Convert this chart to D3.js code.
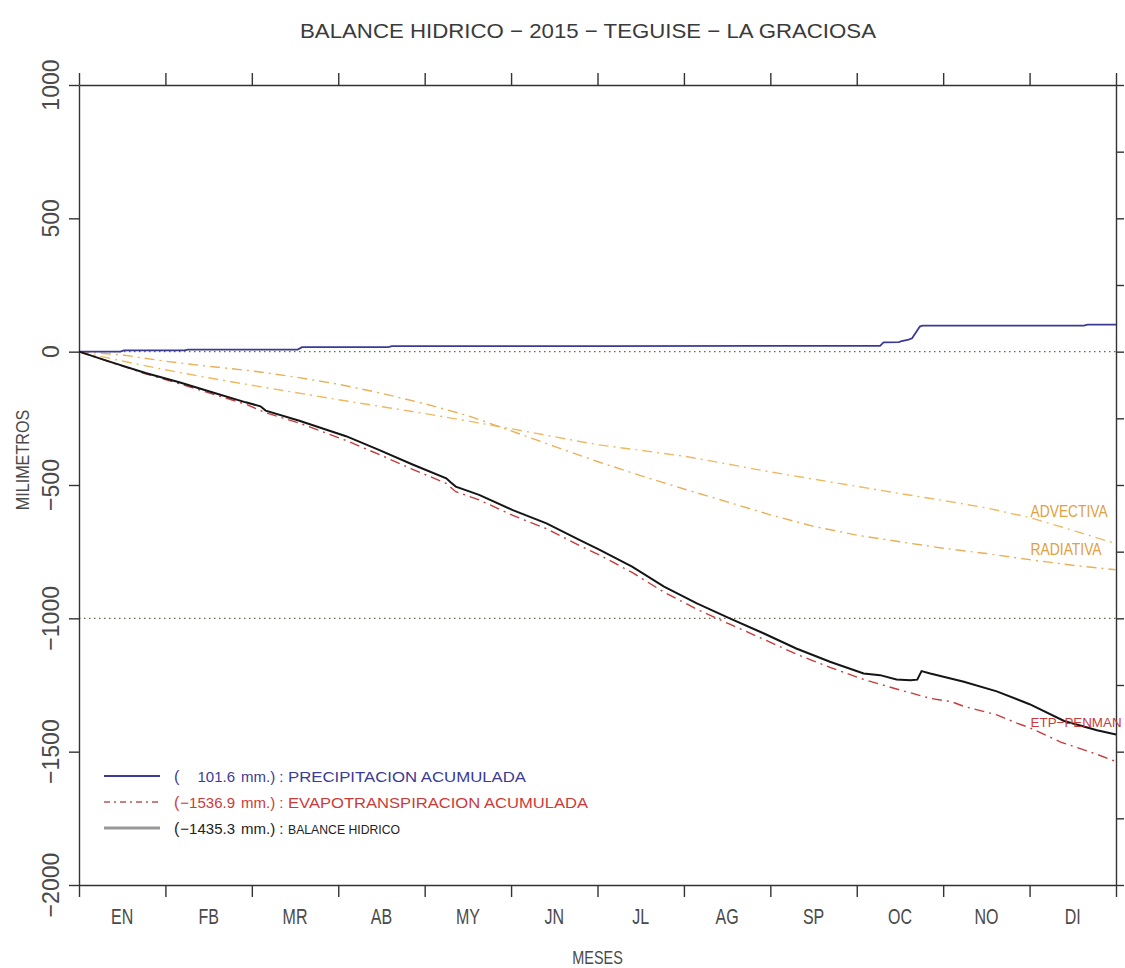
<!DOCTYPE html>
<html><head><meta charset="utf-8">
<script src="https://cdn.jsdelivr.net/npm/d3@7"></script>
<style>
body{margin:0;background:#fff;}
svg{display:block;}
text{font-family:"Liberation Sans","DejaVu Sans",sans-serif;}
</style></head><body>
<svg id="c" width="1125" height="968"></svg>
<script>
// ---------- data ----------
const months = ["EN","FB","MR","AB","MY","JN","JL","AG","SP","OC","NO","DI"];
const yTickValues = [1000,500,0,-500,-1000,-1500,-2000];
const yRightTickValues = [1000,750,500,250,0,-250,-500,-750,-1000,-1250,-1500,-1750,-2000];
const refLineValues = [0,-1000];

// time in months since 1 Jan (0..12)
const precipT = [0,0.48,0.52,1.22,1.26,2.53,2.58,3.58,3.62,6.0,9.27,9.31,9.49,9.52,9.60,9.64,9.73,9.76,11.63,11.67,12];
const precipV = [0,0,5,5,8,8,17,17,21,21,22,35,36,40,45,50,94,97.5,98,101.6,101.6];

const etpT = [0,0.39,0.77,1.16,1.54,1.93,2.16,2.55,3.09,3.47,3.86,4.25,4.36,4.63,5.02,5.41,5.79,6.02,6.4,6.77,7.15,7.53,7.92,8.3,8.69,9.08,9.46,9.85,10.1,10.24,10.62,10.86,11.0,11.36,11.78,12];
const etpV = [0,-42,-83,-120,-158,-197,-229,-268,-333,-385,-441,-494,-525,-556,-614,-664,-727,-762,-828,-902,-966,-1022,-1078,-1134,-1184,-1229,-1265,-1300,-1313,-1330,-1362,-1394,-1410,-1464,-1510,-1536.9];

const balT = [0,0.39,0.77,1.16,1.54,1.93,2.1,2.16,2.55,3.09,3.47,3.86,4.25,4.3,4.36,4.63,5.02,5.41,5.79,6.02,6.4,6.77,7.15,7.53,7.92,8.3,8.69,9.08,9.27,9.46,9.62,9.7,9.75,9.85,10.24,10.62,11.0,11.4,11.78,12];
const balV = [0,-41,-80,-115,-152,-190,-205,-221,-259,-317,-368,-423,-475,-490,-506,-537,-594,-644,-706,-742,-806,-881,-944,-1000,-1056,-1113,-1163,-1207,-1213,-1229,-1232,-1230,-1198,-1207,-1238,-1274,-1322,-1385,-1420,-1435.3];

const halfT = [0,0.5,1,1.5,2,2.5,3,3.5,4,4.5,5,5.5,6,6.5,7,7.5,8,8.5,9,9.5,10,10.5,11,11.5,12];
const advV = [0,-35,-68,-98,-126,-153,-180,-206,-232,-260,-289,-319,-349,-370,-392,-421,-451,-478,-505,-532,-558,-586,-622,-670,-720];
const radV = [0,-12,-36,-55,-72,-95,-122,-156,-195,-240,-297,-355,-412,-465,-515,-563,-612,-655,-688,-713,-737,-757,-780,-801,-818];

const legendValues = ["101.6","\u22121536.9","\u22121435.3"];
const legendLabels = ["PRECIPITACION ACUMULADA","EVAPOTRANSPIRACION ACUMULADA","BALANCE HIDRICO"];
const sideLabels = ["ADVECTIVA","RADIATIVA","ETP\u2212PENMAN"];

// ---------- drawing ----------
const svg = d3.select("#c");
const L=79, R=1116, T=85, B=885;
const x = d3.scaleLinear().domain([0,12]).range([L,R]);
const y = d3.scaleLinear().domain([-2000,1000]).range([B,T]);
const axisColor = "#333";
const txtCol = "#4a4a4a";

svg.append("rect").attr("width",1125).attr("height",968).attr("fill","#fff");

// reference dotted lines
svg.selectAll(".ref").data(refLineValues).join("line")
  .attr("x1",L).attr("x2",R).attr("y1",d=>y(d)).attr("y2",d=>y(d))
  .attr("stroke","#6d6650").attr("stroke-width",1.3).attr("stroke-dasharray","1.5,3.5");

// axes
function styleAxis(g){
  g.selectAll("path").attr("stroke",axisColor).attr("stroke-width",1.4);
  g.selectAll("line").attr("stroke",axisColor).attr("stroke-width",1.4);
}
svg.append("g").attr("transform",`translate(0,${T})`)
  .call(d3.axisTop(x).tickValues(d3.range(0,13)).tickSize(12).tickSizeOuter(0).tickFormat(""))
  .call(styleAxis);
svg.append("g").attr("transform",`translate(0,${B})`)
  .call(d3.axisBottom(x).tickValues(d3.range(0,13)).tickSize(12).tickSizeOuter(0).tickFormat(""))
  .call(styleAxis);
svg.append("g").attr("transform",`translate(${L},0)`)
  .call(d3.axisLeft(y).tickValues(yTickValues).tickSize(10).tickSizeOuter(0).tickFormat(""))
  .call(styleAxis);
svg.append("g").attr("transform",`translate(${R},0)`)
  .call(d3.axisRight(y).tickValues(yRightTickValues).tickSize(8).tickSizeOuter(0).tickFormat(""))
  .call(styleAxis);

// y tick labels (rotated)
svg.selectAll(".ylab").data(yTickValues).join("text")
  .attr("transform",d=>`translate(59,${y(d)}) rotate(-90) scale(1.05,1.12)`)
  .attr("text-anchor","middle").attr("font-size",22).attr("fill",txtCol)
  .text(d=> d<0 ? "\u2212"+Math.abs(d) : String(d));

// month labels
svg.selectAll(".mlab").data(months).join("text")
  .attr("transform",(d,i)=>`translate(${x(i+0.5)},924) scale(0.8,1.1)`)
  .attr("text-anchor","middle").attr("font-size",20).attr("fill",txtCol)
  .text(d=>d);

// axis titles
svg.append("text").attr("transform",`translate(${(L+R)/2},964) scale(0.85,1.1)`).attr("text-anchor","middle")
  .attr("font-size",17).attr("fill",txtCol).text("MESES");
svg.append("text").attr("transform",`translate(29,460) rotate(-90) scale(0.95,1.05)`).attr("text-anchor","middle")
  .attr("font-size",17).attr("fill",txtCol).text("MILIMETROS");
svg.append("text").attr("x",588).attr("y",38).attr("text-anchor","middle")
  .attr("font-size",21).attr("fill","#3a3a3a")
  .attr("textLength",576).attr("lengthAdjust","spacingAndGlyphs")
  .text("BALANCE HIDRICO  \u2212  2015  \u2212  TEGUISE  \u2212  LA GRACIOSA");

// series
const line = d3.line().x(d=>x(d[0])).y(d=>y(d[1]));
svg.append("path").datum(d3.zip(halfT,advV)).attr("d",line)
  .attr("fill","none").attr("stroke","#efb960").attr("stroke-width",1.4).attr("stroke-dasharray","10,5,2,5");
svg.append("path").datum(d3.zip(halfT,radV)).attr("d",line)
  .attr("fill","none").attr("stroke","#e9b058").attr("stroke-width",1.4).attr("stroke-dasharray","10,5,2,5");
svg.append("path").datum(d3.zip(etpT,etpV)).attr("d",line)
  .attr("fill","none").attr("stroke","#c83a3a").attr("stroke-width",1.4).attr("stroke-dasharray","10,5,2,5");
svg.append("path").datum(d3.zip(precipT,precipV)).attr("d",line)
  .attr("fill","none").attr("stroke","#3b3b96").attr("stroke-width",1.8);
svg.append("path").datum(d3.zip(balT,balV)).attr("d",line)
  .attr("fill","none").attr("stroke","#151515").attr("stroke-width",2);

// side labels
const sideY = [517,555,727];
const sideCol = ["#e0a040","#e0a040","#cc3a3a"];
const sideW = [77,71,91];
const sideSize = [16,16,13.5];
sideLabels.forEach((s,i)=>{
  svg.append("text").attr("x",x(11)+1).attr("y",sideY[i]).attr("font-size",sideSize[i])
    .attr("fill",sideCol[i]).attr("textLength",sideW[i]).attr("lengthAdjust","spacingAndGlyphs").text(s);
});

// legend
const legY = [776,802,828];
const legCol = ["#3b3b96","#cc3a3a","#222"];
const legLabW = [238,300,112];
const legLabSize = [15,15,13];
legY.forEach((ly,i)=>{
  const ln = svg.append("line").attr("x1",104).attr("x2",160).attr("y1",ly).attr("y2",ly);
  if(i===0) ln.attr("stroke","#3b3b96").attr("stroke-width",1.8);
  if(i===1) ln.attr("stroke","#b05858").attr("stroke-width",1.3).attr("stroke-dasharray","6,4,2,4");
  if(i===2) ln.attr("stroke","#999").attr("stroke-width",3);
  svg.append("text").attr("x",174).attr("y",ly+6).attr("font-size",16).attr("fill",legCol[i]).text("(");
  svg.append("text").attr("x",235).attr("y",ly+6).attr("text-anchor","end").attr("font-size",15).attr("fill",legCol[i]).text(legendValues[i]);
  svg.append("text").attr("x",241).attr("y",ly+6).attr("font-size",15).attr("fill",legCol[i]).text("mm.) :");
  svg.append("text").attr("x",288).attr("y",ly+6).attr("font-size",legLabSize[i]).attr("fill",legCol[i])
    .attr("textLength",legLabW[i]).attr("lengthAdjust","spacingAndGlyphs").text(legendLabels[i]);
});
</script>
</body></html>
